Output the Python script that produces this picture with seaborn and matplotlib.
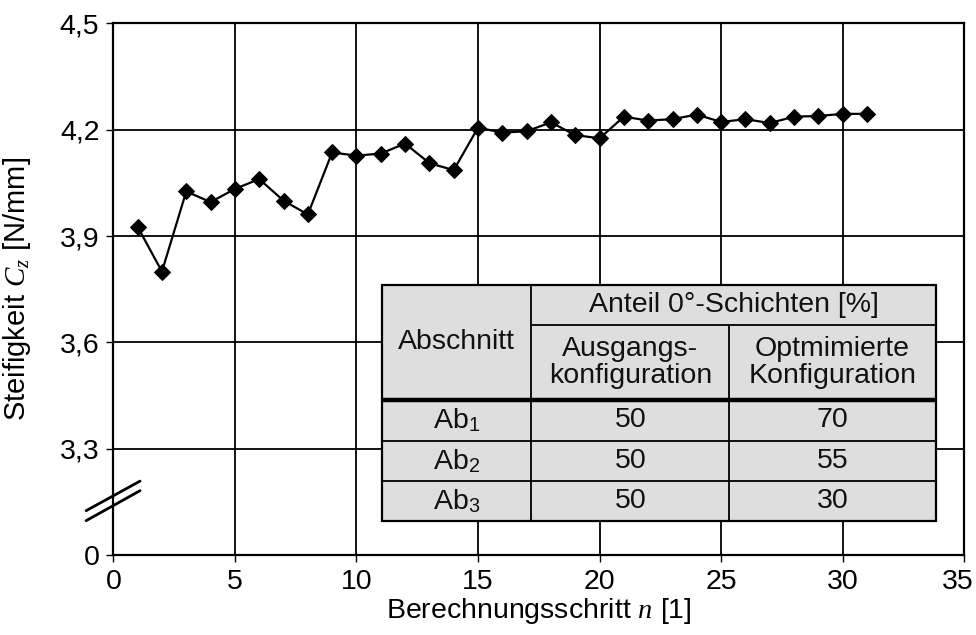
import matplotlib
matplotlib.use("Agg")
import matplotlib.pyplot as plt
from matplotlib.patches import Rectangle
from matplotlib.transforms import ScaledTranslation
import seaborn as sns
import pandas as pd

# ---- data ----
steps = list(range(1, 32))
stiffness = [3.926, 3.800, 4.026, 3.996, 4.033, 4.061, 4.000, 3.961, 4.136, 4.127,
             4.133, 4.161, 4.106, 4.086, 4.206, 4.192, 4.196, 4.221, 4.185, 4.176,
             4.237, 4.226, 4.230, 4.243, 4.222, 4.230, 4.219, 4.237, 4.239, 4.245,
             4.245]
y_ticks = [3.0, 3.3, 3.6, 3.9, 4.2, 4.5]
y_ticklabels = ["0", "3,3", "3,6", "3,9", "4,2", "4,5"]
x_ticks = [0, 5, 10, 15, 20, 25, 30, 35]
x_ticklabels = ["0", "5", "10", "15", "20", "25", "30", "35"]

table_sections = ["Ab$_1$", "Ab$_2$", "Ab$_3$"]
table_initial = [50, 50, 50]
table_optimized = [70, 55, 30]

df = pd.DataFrame({"n": steps, "Cz": stiffness})

# ---- style ----
sns.set_theme(style="white")
plt.rcParams["font.family"] = ["Liberation Sans", "DejaVu Sans"]
plt.rcParams["mathtext.fontset"] = "custom"
plt.rcParams["mathtext.rm"] = "Liberation Sans"
plt.rcParams["mathtext.it"] = "Liberation Serif:italic"
plt.rcParams["mathtext.bf"] = "Liberation Sans:bold"

fig = plt.figure(figsize=(9.76, 6.35), dpi=100)
ax = fig.add_axes([0.1161, 0.126, 0.8719, 0.837])

sns.lineplot(data=df, x="n", y="Cz", ax=ax, color="black", linewidth=1.6,
             marker="D", markersize=8.3, markeredgecolor="black",
             markerfacecolor="black", zorder=5)

ax.set_xlim(0, 35)
ax.set_ylim(3.0, 4.5)
ax.set_xticks(x_ticks)
ax.set_xticklabels(x_ticklabels)
ax.set_yticks(y_ticks)
ax.set_yticklabels(y_ticklabels)
ax.tick_params(axis="both", labelsize=20.5, colors="black", length=5, width=1.0,
               direction="out", bottom=True, left=True, pad=5)
ax.grid(True, color="black", linewidth=1.3)
ax.set_axisbelow(True)
for s in ax.spines.values():
    s.set_color("black")
    s.set_linewidth(1.6)

# nudge last x tick label inward so it stays on the canvas
last = ax.get_xticklabels()[-1]
last.set_transform(last.get_transform() + ScaledTranslation(-7 / 100, 0, fig.dpi_scale_trans))

ax.set_xlabel("Berechnungsschritt $n$ [1]", fontsize=20.5, color="black", labelpad=1)
ax.set_ylabel("Steifigkeit $C_z$ [N/mm]", fontsize=21, color="black")
ax.yaxis.set_label_coords(-0.094, 0.5)

# axis break marks
for y0, y1 in [(0.0833, 0.139), (0.0645, 0.121)]:
    ax.plot([-0.032, 0.0314], [y0, y1], transform=ax.transAxes, color="black",
            linewidth=2.0, clip_on=False, zorder=10)

# ---- inset table ----
xs = [0.3161, 0.4912, 0.7239, 0.9664]
ys_top = 0.508
y_sub = 0.4327
y_head = 0.2916
row_edges = [0.2916, 0.2145, 0.1392, 0.064]
fill = "#dedede"
tr = ax.transAxes
bg = Rectangle((xs[0], row_edges[-1]), xs[-1] - xs[0], ys_top - row_edges[-1],
               transform=tr, facecolor=fill, edgecolor="black", linewidth=1.6,
               zorder=20)
ax.add_patch(bg)

def hline(y, x0, x1, lw=1.3):
    ax.plot([x0, x1], [y, y], transform=tr, color="black", linewidth=lw, zorder=21,
            solid_capstyle="butt")

def vline(x, y0, y1, lw=1.3):
    ax.plot([x, x], [y0, y1], transform=tr, color="black", linewidth=lw, zorder=21,
            solid_capstyle="butt")

hline(y_sub, xs[1], xs[3])
hline(y_head, xs[0], xs[3], lw=3.2)
for y in row_edges[1:-1]:
    hline(y, xs[0], xs[3])
vline(xs[1], row_edges[-1], ys_top)
vline(xs[2], row_edges[-1], y_sub)

fs = 20.5
def cell_text(x0, x1, y0, y1, s):
    ax.text((x0 + x1) / 2, (y0 + y1) / 2, s, transform=tr, ha="center",
            va="center", fontsize=fs, color="#111111", zorder=22, linespacing=1.08)

cell_text(xs[0], xs[1], y_head, ys_top, "Abschnitt")
cell_text(xs[1], xs[3], y_sub, ys_top, "Anteil 0°-Schichten [%]")
cell_text(xs[1], xs[2], y_head, y_sub, "Ausgangs-\nkonfiguration")
cell_text(xs[2], xs[3], y_head, y_sub, "Optmimierte\nKonfiguration")
for i, (sec, a, b) in enumerate(zip(table_sections, table_initial, table_optimized)):
    y0, y1 = row_edges[i + 1], row_edges[i]
    cell_text(xs[0], xs[1], y0, y1, sec)
    cell_text(xs[1], xs[2], y0, y1, str(a))
    cell_text(xs[2], xs[3], y0, y1, str(b))

fig.savefig("out.png", dpi=100)
